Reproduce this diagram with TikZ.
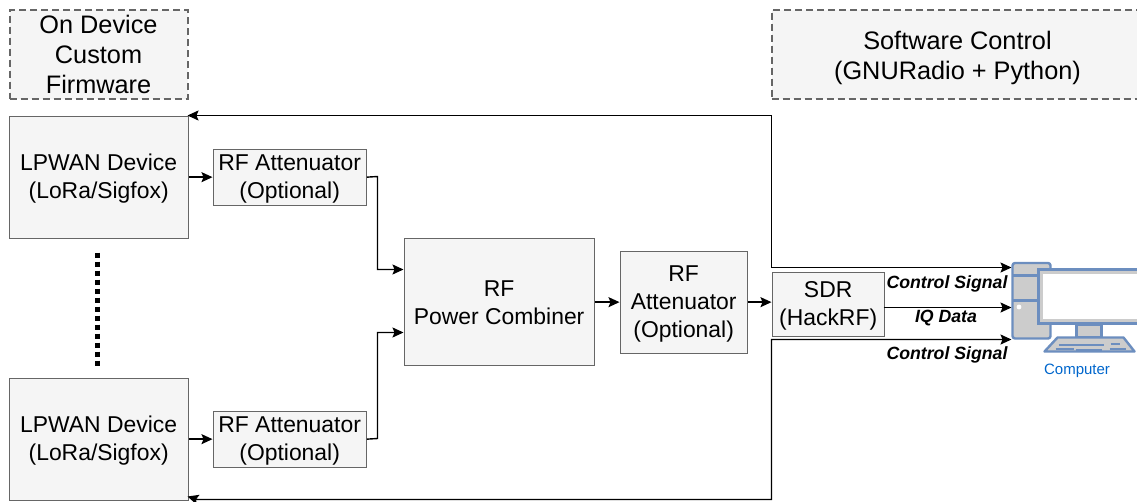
\documentclass[tikz,border=0pt]{standalone}
\usepackage{fontspec}
\setmainfont{Liberation Sans}
\usetikzlibrary{arrows.meta,calc}
\definecolor{boxfill}{HTML}{F5F5F5}
\definecolor{boxline}{HTML}{666666}
\definecolor{pcline}{HTML}{6C8EBF}
\definecolor{pcfill}{HTML}{CCCCCC}
\definecolor{pctext}{HTML}{0066CC}
\tikzset{
  x=1pt,y=-1pt,
  blockbox/.style={draw=boxline,fill=boxfill,line width=1.3pt,align=center,font=\fontsize{22.9}{28}\selectfont,inner sep=0pt,anchor=north west},
  notebox/.style={blockbox,dashed,dash pattern=on 7pt off 4pt,line width=2pt,font=\fontsize{25.3}{30}\selectfont},
  wire/.style={draw=black,line width=1.4pt,-{Stealth[length=11pt,width=10pt,inset=2pt]}},
  bothwire/.style={wire,{Stealth[length=11pt,width=10pt,inset=2pt]}-{Stealth[length=11pt,width=10pt,inset=2pt]}},
  siglabel/.style={font=\fontsize{17.7}{20}\selectfont\bfseries\itshape,inner sep=0pt},
  pcpart/.style={draw=pcline,fill=pcfill,line width=2.4pt,line join=round},
}
\newcommand{\blk}[6]{\node[#1,minimum width=#4pt,minimum height=#5pt] (#2) at (#3) {#6};}
\newcommand{\dn}[1]{\rule{0pt}{#1pt}}
\begin{document}
\begin{tikzpicture}
\useasboundingbox (0,0) rectangle (1137,501);
\begin{scope}[shift={(-0.5,-0.5)}]
\blk{notebox}{fw}{9,9}{178}{89}{On Device\\Custom\\Firmware}
\blk{notebox}{sw}{771,9}{372}{89}{\dn{27}Software Control\\(GNURadio + Python)}
\blk{blockbox}{lpa}{9,116}{179}{122}{\dn{19}LPWAN Device\\(LoRa/Sigfox)}
\blk{blockbox}{lpb}{9,378}{179}{122}{\dn{19}LPWAN Device\\(LoRa/Sigfox)}
\blk{blockbox}{ata}{213,149}{153}{56}{\dn{19}RF Attenuator\\(Optional)}
\blk{blockbox}{atb}{213,411}{153}{56}{\dn{19}RF Attenuator\\(Optional)}
\blk{blockbox}{comb}{404,238}{190}{127}{\dn{18.5}RF\\Power Combiner}
\blk{blockbox}{atc}{620,251}{127}{102}{\dn{18.5}RF\\Attenuator\\(Optional)}
\blk{blockbox}{sdr}{772,272}{112}{64}{\dn{19.5}SDR\\(HackRF)}
% computer
\draw[pcpart,rounded corners=2.5pt] (1013,263.5) rectangle (1051,339);
\node[inner sep=0pt,minimum size=0pt] (tower) at (1031,301) {};
\draw[pcpart] (1013,276) -- (1040,276) (1013,301) -- (1040,301);
\fill[white] (1019.5,307.5) circle (2.4pt);
\draw[pcpart] (1077,325) rectangle (1102,338);
\draw[pcpart] (1045,352) -- (1058,338) -- (1124,338) -- (1135,352) -- cycle;
\draw[pcline,line width=2pt] (1059,345) -- (1104,345) (1111,344.5) -- (1120,344.5) (1056,349) -- (1074,349) (1076,350) -- (1102,350) (1110,349.5) -- (1126,349.5);
\draw[draw=pcline,fill=white,line width=2.4pt] (1039,270) rectangle (1140,324);
\draw[pcfill,line width=2.6pt] (1042,273) rectangle (1140,321);
\node[font=\fontsize{15}{17}\selectfont,text=pctext,inner sep=0pt] (pclabel) at (1077.5,371) {Computer};
% dots
\coordinate (dotstop) at (98,253);
\coordinate (dotsbot) at (98,367);
\draw[line width=5pt,dash pattern=on 5pt off 4pt] (dotstop) -- (dotsbot);
% connectors
\draw[wire] (lpa.east |- ata.west) -- (ata.west);
\draw[wire] (lpb.east |- atb.west) -- (atb.west);
\coordinate (combin) at (404,270);
\coordinate (combinb) at (404,333);
\draw[wire] (ata.east) -- (378,177) -- (378,270) -- (combin);
\draw[wire] (atb.east) -- (378,439) -- (378,333) -- (combinb);
\draw[wire] (comb.east |- atc.west) -- (atc.west);
\draw[wire] (atc.east) -- (atc.east -| sdr.west);
\coordinate (towertop) at (1012,268);
\coordinate (towermid) at (1012,308);
\coordinate (towerbot) at (1012,340);
\coordinate (sdrmid) at (884,308);
\coordinate (lptop) at (188,116);
\coordinate (lpbot) at (188,497);
\draw[wire] (sdrmid) -- (towermid);
\draw[bothwire] (lptop) -- (772,116) -- (772,268) -- (towertop);
\draw[bothwire] (lpbot) -- (198,500) -- (772,500) -- (772,340) -- (towerbot);
% labels
\node[siglabel] (lab1) at (947.5,284) {Control Signal};
\node[siglabel] (lab2) at (946.5,319) {IQ Data};
\node[siglabel] (lab3) at (947.5,355) {Control Signal};
\end{scope}
\end{tikzpicture}
\end{document}
